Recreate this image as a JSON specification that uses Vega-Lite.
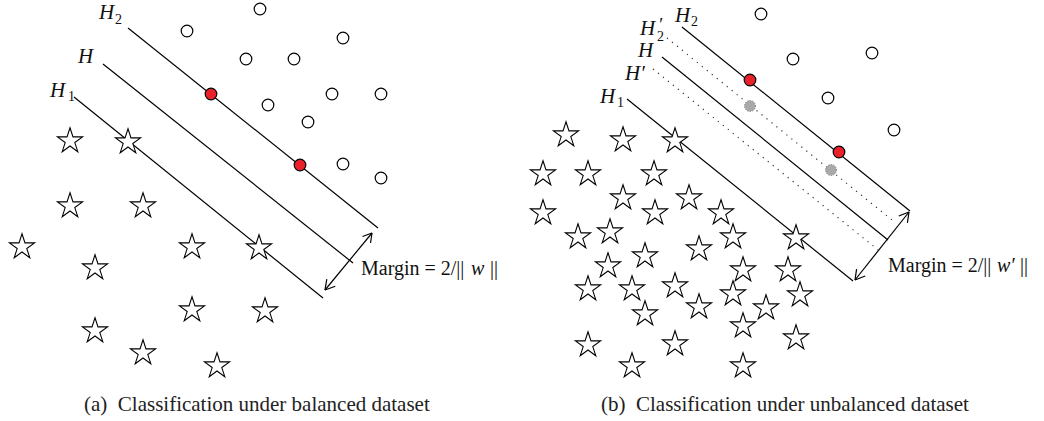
{
  "$schema": "https://vega.github.io/schema/vega-lite/v6.json",
  "width": 1044,
  "height": 421,
  "padding": 0,
  "autosize": {"type": "none"},
  "background": "white",
  "config": {"view": {"stroke": null}},
  "datasets": {
    "segs": [
      {"x": 128, "y": 28, "x2": 378, "y2": 228, "s": "solid"},
      {"x": 103, "y": 64, "x2": 353, "y2": 263, "s": "solid"},
      {"x": 74, "y": 97, "x2": 323, "y2": 298, "s": "solid"},
      {"x": 325, "y": 290, "x2": 372, "y2": 233, "s": "solid"},
      {"x": 362.5, "y": 236.5, "x2": 372, "y2": 233, "s": "solid"},
      {"x": 370.5, "y": 243, "x2": 372, "y2": 233, "s": "solid"},
      {"x": 335.3, "y": 286.2, "x2": 325, "y2": 290, "s": "solid"},
      {"x": 326.8, "y": 279.2, "x2": 325, "y2": 290, "s": "solid"},
      {"x": 682, "y": 27, "x2": 910, "y2": 211, "s": "solid"},
      {"x": 662, "y": 57, "x2": 888, "y2": 240, "s": "solid"},
      {"x": 627, "y": 99, "x2": 853, "y2": 281, "s": "solid"},
      {"x": 855, "y": 280, "x2": 909, "y2": 212, "s": "solid"},
      {"x": 898.8, "y": 216, "x2": 909, "y2": 212, "s": "solid"},
      {"x": 907.4, "y": 222.9, "x2": 909, "y2": 212, "s": "solid"},
      {"x": 865.2, "y": 276, "x2": 855, "y2": 280, "s": "solid"},
      {"x": 856.6, "y": 269.1, "x2": 855, "y2": 280, "s": "solid"},
      {"x": 667, "y": 38, "x2": 892, "y2": 220, "s": "dot"},
      {"x": 653, "y": 69, "x2": 882, "y2": 253, "s": "dot"}
    ],
    "circles": [
      {"x": 260, "y": 9, "c": "w"}, {"x": 187, "y": 31, "c": "w"}, {"x": 343, "y": 38, "c": "w"},
      {"x": 246, "y": 59, "c": "w"}, {"x": 294, "y": 59, "c": "w"}, {"x": 332, "y": 94, "c": "w"},
      {"x": 381, "y": 94, "c": "w"}, {"x": 268, "y": 105, "c": "w"}, {"x": 308, "y": 122, "c": "w"},
      {"x": 343, "y": 164, "c": "w"}, {"x": 381, "y": 178, "c": "w"},
      {"x": 211, "y": 94, "c": "r"}, {"x": 300, "y": 165, "c": "r"},
      {"x": 761, "y": 14, "c": "w"}, {"x": 793, "y": 59, "c": "w"}, {"x": 872, "y": 53, "c": "w"},
      {"x": 828, "y": 98, "c": "w"}, {"x": 894, "y": 130, "c": "w"},
      {"x": 750, "y": 80, "c": "r"}, {"x": 839, "y": 152, "c": "r"}
    ],
    "gray": [
      {"x": 750, "y": 106}, {"x": 831, "y": 170}
    ],
    "stars": [
      {"x": 70, "y": 141, "c": "w"}, {"x": 128, "y": 142, "c": "b"}, {"x": 70, "y": 206, "c": "w"},
      {"x": 143, "y": 206, "c": "w"}, {"x": 22, "y": 247, "c": "w"}, {"x": 192, "y": 247, "c": "w"},
      {"x": 259, "y": 248, "c": "b"}, {"x": 95, "y": 268, "c": "w"}, {"x": 192, "y": 310, "c": "w"},
      {"x": 265, "y": 311, "c": "w"}, {"x": 95, "y": 331, "c": "w"}, {"x": 143, "y": 353, "c": "w"},
      {"x": 217, "y": 366, "c": "w"},
      {"x": 566, "y": 135, "c": "w"}, {"x": 623, "y": 140, "c": "w"}, {"x": 675, "y": 141, "c": "b"},
      {"x": 543, "y": 174, "c": "w"}, {"x": 588, "y": 174, "c": "w"}, {"x": 654, "y": 174, "c": "w"},
      {"x": 623, "y": 198, "c": "w"}, {"x": 689, "y": 198, "c": "w"}, {"x": 543, "y": 213, "c": "w"},
      {"x": 655, "y": 213, "c": "w"}, {"x": 721, "y": 213, "c": "w"}, {"x": 578, "y": 237, "c": "w"},
      {"x": 610, "y": 232, "c": "w"}, {"x": 733, "y": 237, "c": "w"}, {"x": 796, "y": 238, "c": "b"},
      {"x": 699, "y": 249, "c": "w"}, {"x": 645, "y": 256, "c": "w"}, {"x": 608, "y": 266, "c": "w"},
      {"x": 743, "y": 270, "c": "w"}, {"x": 788, "y": 270, "c": "w"}, {"x": 588, "y": 289, "c": "w"},
      {"x": 632, "y": 289, "c": "w"}, {"x": 675, "y": 286, "c": "w"}, {"x": 733, "y": 294, "c": "w"},
      {"x": 800, "y": 295, "c": "w"}, {"x": 699, "y": 307, "c": "w"}, {"x": 645, "y": 314, "c": "w"},
      {"x": 766, "y": 308, "c": "w"}, {"x": 743, "y": 326, "c": "w"}, {"x": 588, "y": 345, "c": "w"},
      {"x": 675, "y": 344, "c": "w"}, {"x": 796, "y": 338, "c": "w"}, {"x": 632, "y": 366, "c": "w"},
      {"x": 743, "y": 366, "c": "w"}
    ],
    "hlab": [
      {"x": 99, "y": 19, "t": "H"}, {"x": 78, "y": 63, "t": "H"}, {"x": 50, "y": 97, "t": "H"},
      {"x": 675, "y": 22, "t": "H"}, {"x": 640, "y": 35, "t": "H"}, {"x": 638, "y": 57, "t": "H"},
      {"x": 625, "y": 80, "t": "H′"}, {"x": 600, "y": 103, "t": "H"}
    ],
    "sub": [
      {"x": 115, "y": 24, "t": "2"}, {"x": 68, "y": 101, "t": "1"},
      {"x": 691, "y": 26, "t": "2"}, {"x": 657, "y": 41, "t": "2"}, {"x": 617, "y": 107, "t": "1"}
    ],
    "prime": [
      {"x": 658, "y": 31, "t": "′"}
    ],
    "plain": [
      {"x": 361, "y": 275, "t": "Margin = 2/||"}, {"x": 490, "y": 275, "t": "||"},
      {"x": 888, "y": 272, "t": "Margin = 2/||"}, {"x": 1020, "y": 272, "t": "||"}
    ],
    "ital": [
      {"x": 471, "y": 275, "t": "w"}, {"x": 997, "y": 272, "t": "w′"}
    ],
    "caps": [
      {"x": 84, "y": 411, "t": "(a)\u00a0 Classification under balanced dataset"},
      {"x": 601, "y": 411, "t": "(b)\u00a0 Classification under unbalanced dataset"}
    ]
  },
  "encoding": {
    "x": {"field": "x", "type": "quantitative", "scale": {"domain": [0, 1044], "nice": false, "zero": false}, "axis": null},
    "y": {"field": "y", "type": "quantitative", "scale": {"domain": [0, 421], "nice": false, "zero": false, "reverse": true}, "axis": null}
  },
  "layer": [
    {
      "data": {"name": "segs"},
      "transform": [{"filter": "datum.s === 'solid'"}],
      "mark": {"type": "rule", "color": "black", "strokeWidth": 1.2},
      "encoding": {"x2": {"field": "x2"}, "y2": {"field": "y2"}}
    },
    {
      "data": {"name": "segs"},
      "transform": [{"filter": "datum.s === 'dot'"}],
      "mark": {"type": "rule", "color": "#333333", "strokeWidth": 1.2, "strokeDash": [1.2, 5.2]},
      "encoding": {"x2": {"field": "x2"}, "y2": {"field": "y2"}}
    },
    {
      "data": {"name": "circles"},
      "mark": {"type": "point", "shape": "circle", "filled": true, "stroke": "black", "strokeWidth": 1.2, "opacity": 1, "size": 135},
      "encoding": {
        "fill": {"field": "c", "type": "nominal", "scale": {"domain": ["w", "r"], "range": ["white", "#e9212b"]}, "legend": null}
      }
    },
    {
      "data": {"name": "gray"},
      "mark": {"type": "point", "shape": "circle", "filled": true, "fill": "#a9a9a9", "stroke": "#6e6e6e", "strokeWidth": 1, "strokeDash": [1, 1.5], "opacity": 1, "size": 120}
    },
    {
      "data": {"name": "stars"},
      "mark": {"type": "point", "shape": "M0,-1L0.2245,-0.309L0.951,-0.309L0.363,0.118L0.588,0.809L0,0.382L-0.588,0.809L-0.363,0.118L-0.951,-0.309L-0.2245,-0.309Z", "filled": true, "stroke": "black", "strokeWidth": 1.1, "strokeJoin": "miter", "opacity": 1, "size": 700},
      "encoding": {
        "fill": {"field": "c", "type": "nominal", "scale": {"domain": ["w", "b"], "range": ["white", "#2d55a3"]}, "legend": null}
      }
    },
    {
      "data": {"name": "hlab"},
      "mark": {"type": "text", "font": "Liberation Serif", "fontStyle": "italic", "fontSize": 21, "align": "left", "baseline": "alphabetic", "color": "#111"},
      "encoding": {"text": {"field": "t"}}
    },
    {
      "data": {"name": "sub"},
      "mark": {"type": "text", "font": "Liberation Serif", "fontSize": 14, "align": "left", "baseline": "alphabetic", "color": "#111"},
      "encoding": {"text": {"field": "t"}}
    },
    {
      "data": {"name": "prime"},
      "mark": {"type": "text", "font": "Liberation Serif", "fontStyle": "italic", "fontSize": 19, "align": "left", "baseline": "alphabetic", "color": "#111"},
      "encoding": {"text": {"field": "t"}}
    },
    {
      "data": {"name": "plain"},
      "mark": {"type": "text", "font": "Liberation Serif", "fontSize": 20, "align": "left", "baseline": "alphabetic", "color": "#111"},
      "encoding": {"text": {"field": "t"}}
    },
    {
      "data": {"name": "ital"},
      "mark": {"type": "text", "font": "Liberation Serif", "fontStyle": "italic", "fontSize": 20, "align": "left", "baseline": "alphabetic", "color": "#111"},
      "encoding": {"text": {"field": "t"}}
    },
    {
      "data": {"name": "caps"},
      "mark": {"type": "text", "font": "Liberation Serif", "fontSize": 21, "align": "left", "baseline": "alphabetic", "color": "#222"},
      "encoding": {"text": {"field": "t"}}
    }
  ]
}
